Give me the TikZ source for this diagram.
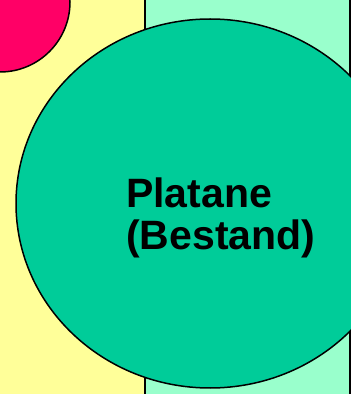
\documentclass[tikz,border=0pt]{standalone}
\usepackage{fontspec}
\setmainfont{Liberation Sans}
\definecolor{bgyellow}{HTML}{FFFF99}
\definecolor{bgmint}{HTML}{99FFCC}
\definecolor{treegreen}{HTML}{00CC99}
\definecolor{treered}{HTML}{FF0066}
\tikzset{outline/.style={draw=black,line width=1.5pt}}
\begin{document}
\begin{tikzpicture}[x=1pt,y=1pt]
\useasboundingbox (0,0) rectangle (351,394);
\fill[bgyellow] (-5,-5) rectangle (145,400);
\filldraw[fill=bgmint,outline] (145,-10) rectangle (350,410);
\filldraw[fill=treered,outline] (0,392) circle (70);
\filldraw[fill=treegreen,outline] (210,190.5) ellipse [x radius=194, y radius=184.5];
\node[anchor=base west,inner sep=0,align=left,font=\fontsize{41}{42}\selectfont\bfseries] (label) at (126,144) {Platane\\(Bestand)};
\end{tikzpicture}
\end{document}
